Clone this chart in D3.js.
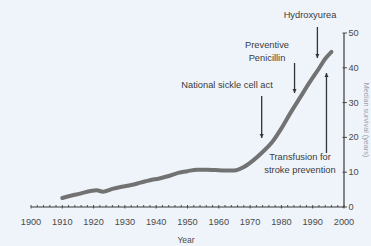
<!DOCTYPE html>
<html>
<head>
<meta charset="utf-8">
<script src="https://cdn.jsdelivr.net/npm/d3@7"></script>
<style>
  html, body { margin: 0; padding: 0; background: #eff4fb; }
  svg { display: block; }
</style>
</head>
<body>
<div id="chart"></div>
<script>
const years = [1910, 1913, 1916, 1919, 1921, 1923, 1926, 1929, 1932, 1935, 1938, 1941, 1944, 1947, 1950, 1953, 1956, 1959, 1962, 1965, 1968, 1971, 1974, 1977, 1980, 1983, 1986, 1989, 1992, 1994, 1996];
const survival = [2.6, 3.3, 3.9, 4.6, 4.8, 4.4, 5.2, 5.8, 6.3, 7.0, 7.7, 8.2, 8.9, 9.8, 10.3, 10.7, 10.7, 10.6, 10.5, 10.5, 11.5, 13.4, 15.8, 18.6, 22.6, 27.2, 31.5, 35.8, 39.8, 42.6, 44.6];

const yTicks = [0, 10, 20, 30, 40, 50];
const xTicks = [1900, 1910, 1920, 1930, 1940, 1950, 1960, 1970, 1980, 1990, 2000];

const events = [
  { lines: ["Hydroxyurea"], year: 1991.5, top: 27, bottom: 58, dir: "down", tx: 310, ty: 18 },
  { lines: ["Preventive", "Penicillin"], year: 1984.2, top: 63, bottom: 93, dir: "down", tx: 267, ty: 48 },
  { lines: ["National sickle cell act"], year: 1973.7, top: 96, bottom: 138, dir: "down", tx: 227, ty: 88 },
  { lines: ["Transfusion for", "stroke prevention"], year: 1994.4, top: 73, bottom: 153, dir: "up", tx: 300, ty: 160 }
];

const width = 371, height = 246;
const x = d3.scaleLinear().domain([1900, 2000]).range([31, 344]);
const y = d3.scaleLinear().domain([0, 50]).range([207, 33]);

const svg = d3.select("#chart").append("svg")
  .attr("width", width)
  .attr("height", height)
  .style("font-family", "Liberation Sans, Arial, sans-serif");

svg.append("rect").attr("width", width).attr("height", height).attr("fill", "#eff4fb");

const ink = "#3a3a3a";

// x axis: baseline with small ticks every 2 years
svg.append("line")
  .attr("x1", x(1900)).attr("x2", x(2000))
  .attr("y1", y(0)).attr("y2", y(0))
  .attr("stroke", ink).attr("stroke-width", 1.2);

d3.range(1900, 2001, 2).forEach((yr) => {
  const major = yr % 10 === 0;
  svg.append("line")
    .attr("x1", x(yr)).attr("x2", x(yr))
    .attr("y1", y(0) - 2).attr("y2", y(0) + (major ? 1.5 : 0))
    .attr("stroke", ink).attr("stroke-width", 0.9);
});

svg.selectAll(".xlab").data(xTicks).enter().append("text")
  .attr("x", (d) => x(d))
  .attr("y", 225)
  .attr("text-anchor", "middle")
  .attr("font-size", 9.2)
  .attr("fill", "#4a4a4a")
  .text((d) => d);

svg.append("text")
  .attr("x", 186).attr("y", 243)
  .attr("text-anchor", "middle")
  .attr("font-size", 8.5)
  .attr("fill", "#4a4a4a")
  .text("Year");

// right y axis
svg.append("line")
  .attr("x1", x(2000)).attr("x2", x(2000))
  .attr("y1", y(0)).attr("y2", y(50))
  .attr("stroke", ink).attr("stroke-width", 1.2);

yTicks.forEach((v) => {
  svg.append("line")
    .attr("x1", x(2000) - 1.5).attr("x2", x(2000) + 3)
    .attr("y1", y(v)).attr("y2", y(v))
    .attr("stroke", ink).attr("stroke-width", 0.9);
  svg.append("text")
    .attr("x", x(2000) + 4.5).attr("y", y(v) + 3)
    .attr("font-size", 9.2)
    .attr("fill", "#4a4a4a")
    .text(v);
});

svg.append("text")
  .attr("transform", `translate(364,${y(25)}) rotate(90)`)
  .attr("text-anchor", "middle")
  .attr("font-size", 7.2)
  .attr("fill", "#9aa0a8")
  .text("Median survival (years)");

// survival curve
const line = d3.line().x((d) => x(d[0])).y((d) => y(d[1])).curve(d3.curveMonotoneX);
svg.append("path")
  .datum(years.map((yr, i) => [yr, survival[i]]))
  .attr("d", line)
  .attr("fill", "none")
  .attr("stroke", "#727272")
  .attr("stroke-width", 4)
  .attr("stroke-linecap", "round")
  .attr("stroke-linejoin", "round");

// annotations
events.forEach((ev) => {
  const ax = x(ev.year);
  svg.append("line")
    .attr("x1", ax).attr("x2", ax)
    .attr("y1", ev.top).attr("y2", ev.bottom)
    .attr("stroke", "#333").attr("stroke-width", 1.3);
  const tip = ev.dir === "down" ? ev.bottom : ev.top;
  const s = ev.dir === "down" ? -1 : 1;
  svg.append("path")
    .attr("d", `M${ax - 2},${tip + s * 4} L${ax},${tip} L${ax + 2},${tip + s * 4} Z`)
    .attr("fill", "#333");
  ev.lines.forEach((t, i) => {
    svg.append("text")
      .attr("x", ev.tx).attr("y", ev.ty + i * 13)
      .attr("text-anchor", "middle")
      .attr("font-size", 9.3)
      .attr("fill", "#3a3a3a")
      .text(t);
  });
});
</script>
</body>
</html>
